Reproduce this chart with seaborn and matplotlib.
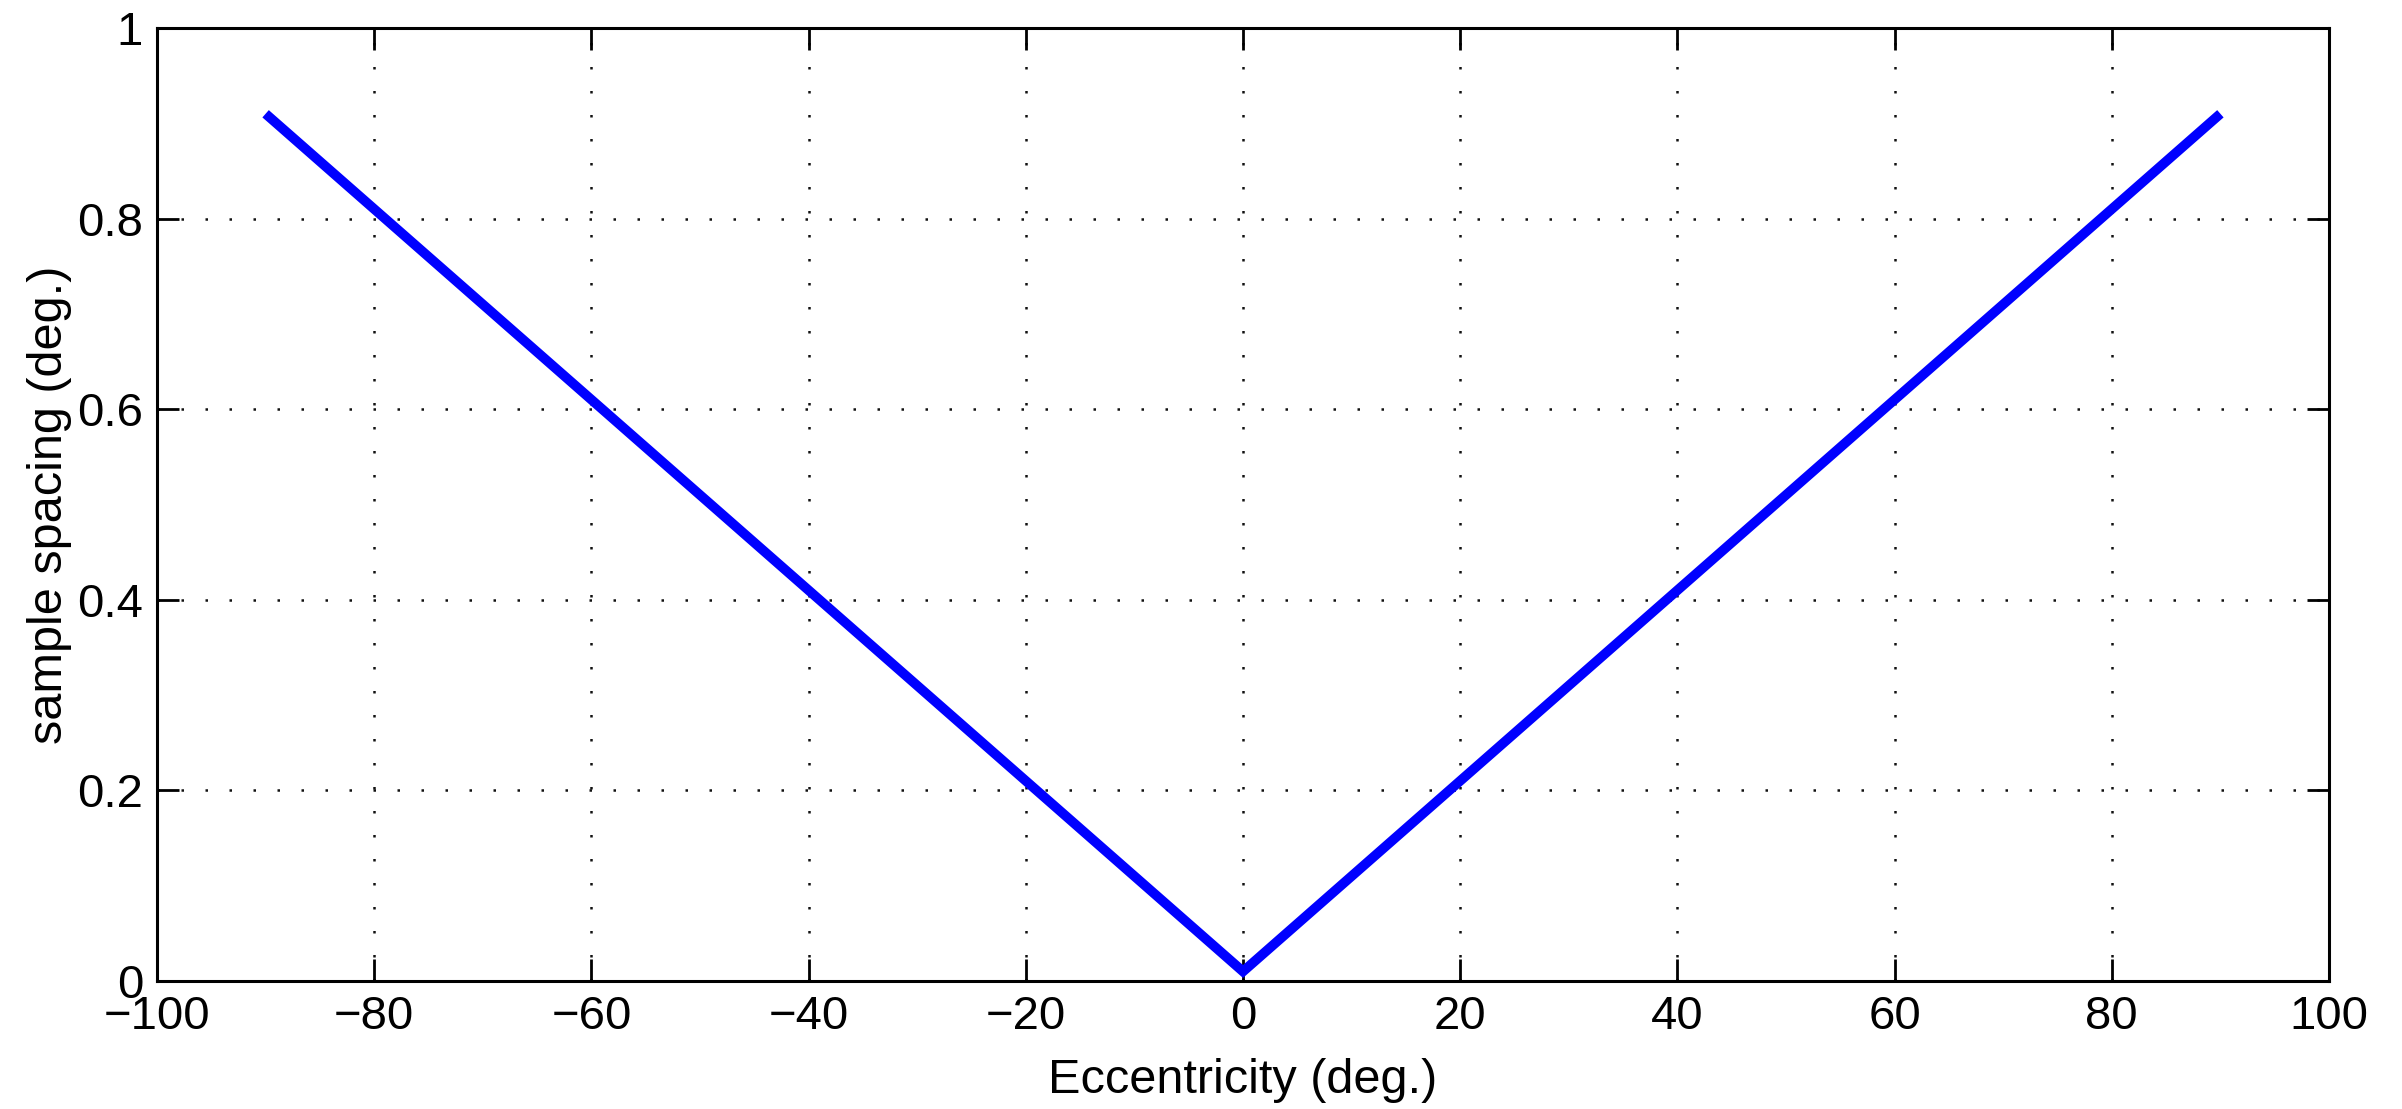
import matplotlib
matplotlib.use("Agg")
import matplotlib.pyplot as plt
import seaborn as sns
import pandas as pd

# data
eccentricity = [-90, 0, 90]
sample_spacing = [0.91, 0.01, 0.91]
x_ticks = [-100, -80, -60, -40, -20, 0, 20, 40, 60, 80, 100]
y_ticks = [0, 0.2, 0.4, 0.6, 0.8, 1]
y_tick_labels = ["0", "0.2", "0.4", "0.6", "0.8", "1"]

sns.set_style("white")
plt.rcParams['font.family'] = ['Liberation Sans', 'DejaVu Sans']

fig = plt.figure(figsize=(24.02, 11.09), dpi=100)
ax = fig.add_axes([157/2402, 1-981/1109, (2329-157)/2402, (981-28)/1109])

df = pd.DataFrame({"ecc": eccentricity, "sp": sample_spacing})
sns.lineplot(data=df, x="ecc", y="sp", ax=ax, color="#0000ff", linewidth=7,
             solid_capstyle="butt", solid_joinstyle="miter", sort=False)

ax.set_xlim(-100, 100)
ax.set_ylim(0, 1)
ax.set_xticks(x_ticks)
ax.set_yticks(y_ticks)
ax.set_yticklabels(y_tick_labels)

ax.grid(True, color="#111111", linewidth=1.8, linestyle=(0, (1, 8.6)))
ax.set_axisbelow(True)

for s in ax.spines.values():
    s.set_visible(True)
    s.set_color("black")
    s.set_linewidth(2.2)

ax.tick_params(direction="in", length=16, width=2, colors="black",
               top=True, right=True, bottom=True, left=True,
               labelsize=34, pad=10)

ax.set_xlabel("Eccentricity (deg.)", fontsize=35, labelpad=14, color="black")
ax.set_ylabel("sample spacing (deg.)", fontsize=35, labelpad=4, color="black")

fig.savefig("out.png", dpi=100, facecolor="white")
